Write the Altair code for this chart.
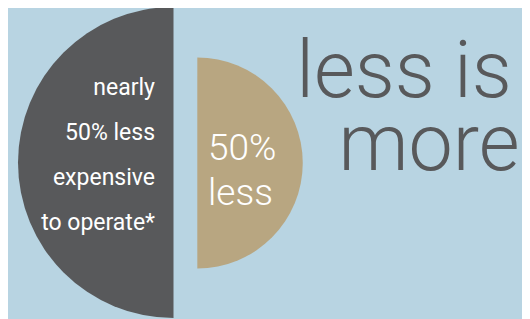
import altair as alt
import pandas as pd

# data
names = ["current", "new"]
values = [100, 46]          # relative area (operating cost)
starts = [0.5, 0.0]         # fraction of full turn
ends = [1.0, 0.5]
colors = ["#58595b", "#b8a681"]

left_lines = ["nearly", "50% less", "expensive", "to operate*"]
right_lines = ["50%", "less"]
title_lines = ["less is", "more"]

df = pd.DataFrame({"name": names, "value": values, "start": starts, "end": ends})

W, H = 514, 311
BG = "#b8d4e2"

rscale = alt.Scale(type="sqrt", domain=[0, 100], range=[0, 155.5])
tscale = alt.Scale(domain=[0, 1], range=[0, 6.283185307])

base = alt.Chart(df)

def arc(name, cx, cy, color):
    return base.transform_filter(alt.datum.name == name).mark_arc(
        color=color, stroke=None
    ).encode(
        x=alt.value(cx),
        y=alt.value(cy),
        theta=alt.Theta("start:Q", scale=tscale),
        theta2="end:Q",
        radius=alt.Radius("value:Q", scale=rscale),
    )

dark = arc("current", 165.5, 154.5, colors[0])
tan = arc("new", 189.3, 155, colors[1])

one = pd.DataFrame({"t": [0]})

left_text = alt.Chart(one).mark_text(
    text=left_lines, font="Roboto", fontSize=23, color="white", align="right",
    baseline="alphabetic", lineHeight=45,
).encode(x=alt.value(147), y=alt.value(87))

right_text = alt.Chart(one).mark_text(
    text=right_lines, font="Roboto", fontWeight=300, fontSize=37, color="white",
    align="left", baseline="alphabetic", lineHeight=45,
).encode(x=alt.value(200), y=alt.value(152))

t1 = alt.Chart(one).mark_text(
    text=title_lines[0], font="Roboto", fontWeight=300, fontSize=79, color="#58595b",
    align="center", baseline="alphabetic",
).encode(x=alt.value(396), y=alt.value(89.3))

t2 = alt.Chart(one).mark_text(
    text=title_lines[1], font="Roboto", fontWeight=300, fontSize=79, color="#58595b",
    align="center", baseline="alphabetic",
).encode(x=alt.value(421), y=alt.value(162))

chart = alt.layer(dark, tan, left_text, right_text, t1, t2).properties(
    width=W, height=H, padding=0, autosize=alt.AutoSizeParams(type="none"),
    background=BG,
).configure_view(stroke=None)

chart.save("out.html", embed_options={"renderer": "svg", "actions": False})
